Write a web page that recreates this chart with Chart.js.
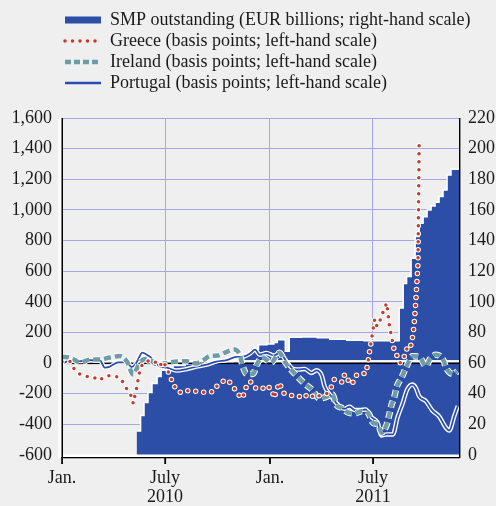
<!DOCTYPE html>
<html>
<head>
<meta charset="utf-8">
<script src="https://cdn.jsdelivr.net/npm/chart.js@4.4.0/dist/chart.umd.min.js"></script>
<style>
  html, body { margin: 0; padding: 0; background: #efefef; }
  canvas { display: block; }
</style>
</head>
<body>
<canvas id="smpChart" width="496" height="506"></canvas>
<script>
// x values are days counted from 1 Jan 2010
const lastDay = 697;
const tickDays = [0, 181, 365, 546];
const tickLabels = ["Jan.", ["July", "2010"], "Jan.", ["July", "2011"]];

// SMP outstanding (EUR billions, right-hand scale), weekly steps
const smpDays = [131, 138, 144, 151, 158, 167, 174, 184, 195, 216, 250, 300, 310, 318, 328, 336, 345, 360, 372, 378,
  392, 399, 420, 448, 470, 500, 530, 592, 599, 605, 613, 620, 627, 634, 641, 648, 655, 662, 669, 676, 683, 697];
const smpValues = [15.6, 25.8, 34.3, 40.8, 46.6, 51.2, 55.3, 57, 58.5, 59.5, 60.5, 61.5, 64.5, 66, 67.7, 69, 72, 72.5, 73.5, 75.3,
  67.7, 76.8, 77, 76.5, 75.5, 74.9, 74.6, 96, 112, 116.5, 128.5, 142.6, 151.3, 155.6, 160, 162.6, 165, 168.7, 173, 182.8, 186.5, 186.5];

// Greece (basis points, left-hand scale)
const greeceDays = [0, 14, 21, 29, 44, 54, 65, 76, 88, 100, 109, 115, 122, 125, 128, 131, 135, 139, 147, 161,
  171, 178, 184, 189, 194, 200, 209, 222, 235, 247, 257, 265, 273, 283, 291, 299, 307, 315, 321, 324,
  331, 339, 350, 360, 369, 372, 377, 381, 384, 390, 402, 414, 423, 433, 444, 454, 465, 473, 478, 486,
  492, 496, 501, 504, 511, 517, 526, 533, 536, 549, 553, 559, 564, 570, 575, 583, 594, 601, 605, 609,
  614, 618, 621, 625, 627];
const greeceValues = [8, 10, -36, -68, -88, -90, -114, -86, -81, -92, -134, -179, -216, -264, -212, -164, -75, -20, 12, 16,
  -21, 12, -38, -75, -125, -168, -194, -179, -184, -190, -190, -186, -145, -119, -109, -147, -188, -231, -194, -147,
  -121, -162, -173, -145, -179, -229, -179, -129, -151, -199, -212, -212, -229, -199, -229, -207, -199, -155, -107, -112,
  -125, -75, -86, -136, -125, -79, -64, -70, -21, 288, 240, 283, 337, 392, 240, 88, 0, 44, 92, 83,
  132, 240, 392, 653, 1435];

// Ireland (basis points, left-hand scale)
const irelandDays = [0, 16, 32, 49, 67, 84, 102, 114, 125, 136, 146, 156, 167, 184, 202, 219, 235, 248, 261, 274,
  288, 303, 312, 318, 325, 336, 342, 352, 367, 382, 391, 402, 414, 426, 439, 452, 464, 475, 481, 491,
  501, 513, 526, 537, 546, 555, 561, 569, 574, 578, 584, 588, 596, 605, 615, 627, 639, 646, 657, 669,
  676, 688, 694];
const irelandValues = [42, 34, 3, 23, 23, 36, 46, 10, -75, 1, 26, 18, -10, 1, 10, 12, -3, 20, 47, 49,
  72, 88, 55, -29, -72, -68, -10, 37, 3, 68, 10, -42, -90, -135, -173, -231, -220, -205, -270, -292,
  -320, -329, -314, -324, -390, -401, -455, -412, -347, -281, -212, -151, -96, -21, 44, 42, -20, 26, 55, 23,
  -42, -72, -53];

// Portugal (basis points, left-hand scale)
const portugalDays = [0, 14, 32, 49, 67, 75, 84, 99, 114, 122, 131, 141, 149, 160, 171, 184, 201, 219, 236, 254,
  271, 289, 306, 318, 330, 339, 347, 359, 372, 382, 394, 406, 416, 426, 438, 447, 456, 461, 470, 479,
  488, 496, 505, 514, 523, 533, 544, 554, 561, 570, 581, 589, 598, 606, 615, 621, 627, 639, 650, 662,
  674, 680, 689, 695];
const portugalValues = [-3, 16, 13, 20, 16, -29, -23, 5, 5, -26, 5, 68, 55, 26, -20, -29, -49, -39, -23, -10,
  10, 20, 40, 42, 62, 88, 55, 66, 49, 66, 12, -38, -42, -38, -64, -47, -81, -151, -205, -249,
  -285, -298, -285, -307, -307, -303, -355, -388, -472, -466, -466, -355, -264, -173, -140, -160, -216, -249, -309, -347,
  -422, -440, -342, -281];

const smpBlue = "#2d4ea6";
const greeceRed = "#c23b2e";
const irelandTeal = "#6d9ba6";
const portugalBlue = "#2a4bb0";
const gridColor = "#a6a6e6";

const toPoints = (days, values) => days.map((d, i) => ({ x: d, y: values[i] }));

Chart.defaults.font.family = '"Liberation Serif", "Times New Roman", serif';
Chart.defaults.font.size = 18;
Chart.defaults.color = "#1a1a1a";

// extra space between legend and plot, and let long legend text run past the plot edge
const legendMargin = {
  id: "legendMargin",
  beforeInit(chart) {
    const fitValue = chart.legend.fit;
    chart.legend.fit = function fit() {
      fitValue.bind(chart.legend)();
      this.height += 16;
    };
  },
  afterLayout(chart) {
    chart.legend.right = chart.width;
  },
};

// zero line sits on top of the SMP area but under the spread lines
const zeroLine = {
  id: "zeroLine",
  afterDatasetDraw(chart, args) {
    if (args.index !== 0) return;
    const { ctx, chartArea } = chart;
    const y0 = chart.scales.y.getPixelForValue(0);
    ctx.save();
    ctx.fillStyle = "#ffffff";
    ctx.fillRect(chartArea.left, y0 - 3, chartArea.right - chartArea.left, 2.5);
    ctx.fillStyle = "#000000";
    ctx.fillRect(chartArea.left, y0 - 0.5, chartArea.right - chartArea.left, 1.5);
    ctx.restore();
  },
};

// axis lines with white edge and tick marks below the x axis
const axisFrame = {
  id: "axisFrame",
  afterDatasetsDraw(chart) {
    const { ctx, chartArea } = chart;
    const { left, right, top, bottom } = chartArea;
    ctx.save();
    ctx.fillStyle = "#ffffff";
    ctx.fillRect(left - 3.5, top, 3, bottom - top + 3);
    ctx.fillRect(left, bottom - 0.5, right - left, 2.5);
    ctx.fillStyle = "#000000";
    ctx.fillRect(left - 0.5, top, 1.5, bottom - top + 3);
    ctx.fillRect(left, bottom + 2, right - left + 1, 1.3);
    ctx.fillRect(right, top, 1.4, bottom - top + 3);
    tickDays.forEach((d) => {
      const x = chart.scales.x.getPixelForValue(d);
      ctx.fillRect(x - 0.8, bottom + 2, 1.8, 7);
    });
    ctx.restore();
  },
};

const ctx = document.getElementById("smpChart").getContext("2d");

new Chart(ctx, {
  type: "line",
  data: {
    datasets: [
      {
        label: "SMP outstanding (EUR billions; right-hand scale)",
        data: toPoints(smpDays, smpValues),
        yAxisID: "y1",
        stepped: true,
        fill: "start",
        backgroundColor: smpBlue,
        borderColor: "#ffffff",
        borderWidth: 1.5,
        pointRadius: 0,
        order: 10,
      },
      {
        label: "Portugal halo",
        data: toPoints(portugalDays, portugalValues),
        yAxisID: "y",
        borderColor: "#ffffff",
        borderWidth: 4.5,
        pointRadius: 0,
        cubicInterpolationMode: "monotone",
        order: 7,
      },
      {
        label: "Portugal (basis points; left-hand scale)",
        data: toPoints(portugalDays, portugalValues),
        yAxisID: "y",
        borderColor: portugalBlue,
        borderWidth: 1.8,
        pointRadius: 0,
        cubicInterpolationMode: "monotone",
        order: 6,
      },
      {
        label: "Ireland halo",
        data: toPoints(irelandDays, irelandValues),
        yAxisID: "y",
        borderColor: "#ffffff",
        borderWidth: 6.5,
        borderDash: [7, 4],
        pointRadius: 0,
        cubicInterpolationMode: "monotone",
        order: 5,
      },
      {
        label: "Ireland (basis points; left-hand scale)",
        data: toPoints(irelandDays, irelandValues),
        yAxisID: "y",
        borderColor: irelandTeal,
        borderWidth: 4.5,
        borderDash: [7, 4],
        pointRadius: 0,
        cubicInterpolationMode: "monotone",
        order: 4,
      },
      {
        label: "Greece halo",
        data: toPoints(greeceDays, greeceValues),
        yAxisID: "y",
        borderColor: "#ffffff",
        borderWidth: 5.5,
        borderDash: [0, 8],
        borderCapStyle: "round",
        pointRadius: 0,
        order: 3,
      },
      {
        label: "Greece (basis points; left-hand scale)",
        data: toPoints(greeceDays, greeceValues),
        yAxisID: "y",
        borderColor: greeceRed,
        borderWidth: 3.5,
        borderDash: [0, 8],
        borderCapStyle: "round",
        pointRadius: 0,
        order: 2,
      },
    ],
  },
  options: {
    responsive: false,
    animation: false,
    events: [],
    layout: {
      padding: { top: 8, left: 11, right: 0, bottom: 0 },
    },
    plugins: {
      tooltip: { enabled: false },
      legend: {
        position: "top",
        align: "start",
        fullSize: false,
        labels: {
          usePointStyle: true,
          pointStyleWidth: 36,
          padding: 3,
          font: { size: 18 },
          generateLabels: () => [
            { text: "SMP outstanding (EUR billions; right-hand scale)", pointStyle: "line", strokeStyle: smpBlue, lineWidth: 7, fontColor: "#1a1a1a" },
            { text: "Greece (basis points; left-hand scale)", pointStyle: "line", strokeStyle: greeceRed, lineWidth: 3.5, lineDash: [0, 7.5], lineCap: "round", fontColor: "#1a1a1a" },
            { text: "Ireland (basis points; left-hand scale)", pointStyle: "line", strokeStyle: irelandTeal, lineWidth: 4.5, lineDash: [6, 3], fontColor: "#1a1a1a" },
            { text: "Portugal (basis points; left-hand scale)", pointStyle: "line", strokeStyle: portugalBlue, lineWidth: 2.5, fontColor: "#1a1a1a" },
          ],
        },
      },
    },
    scales: {
      x: {
        type: "linear",
        min: 0,
        max: lastDay,
        afterBuildTicks: (axis) => {
          axis.ticks = tickDays.map((value) => ({ value }));
        },
        afterFit: (axis) => {
          axis.height = 51;
        },
        ticks: {
          autoSkip: false,
          maxRotation: 0,
          padding: 14,
          font: { size: 18, lineHeight: 1.05 },
          callback: (value) => tickLabels[tickDays.indexOf(value)],
        },
        grid: { color: gridColor, drawTicks: false },
        border: { display: false },
      },
      y: {
        position: "left",
        min: -600,
        max: 1600,
        afterFit: (axis) => {
          axis.width = 51;
        },
        ticks: {
          stepSize: 200,
          padding: 10,
          callback: (value) => value.toLocaleString("en-US"),
        },
        grid: { color: gridColor, drawTicks: false },
        border: { display: false },
      },
      y1: {
        position: "right",
        min: 0,
        max: 220,
        afterFit: (axis) => {
          axis.width = 37;
        },
        ticks: { stepSize: 20, padding: 9 },
        grid: { display: false, drawTicks: false },
        border: { display: false },
      },
    },
  },
  plugins: [legendMargin, zeroLine, axisFrame],
});
</script>
</body>
</html>
